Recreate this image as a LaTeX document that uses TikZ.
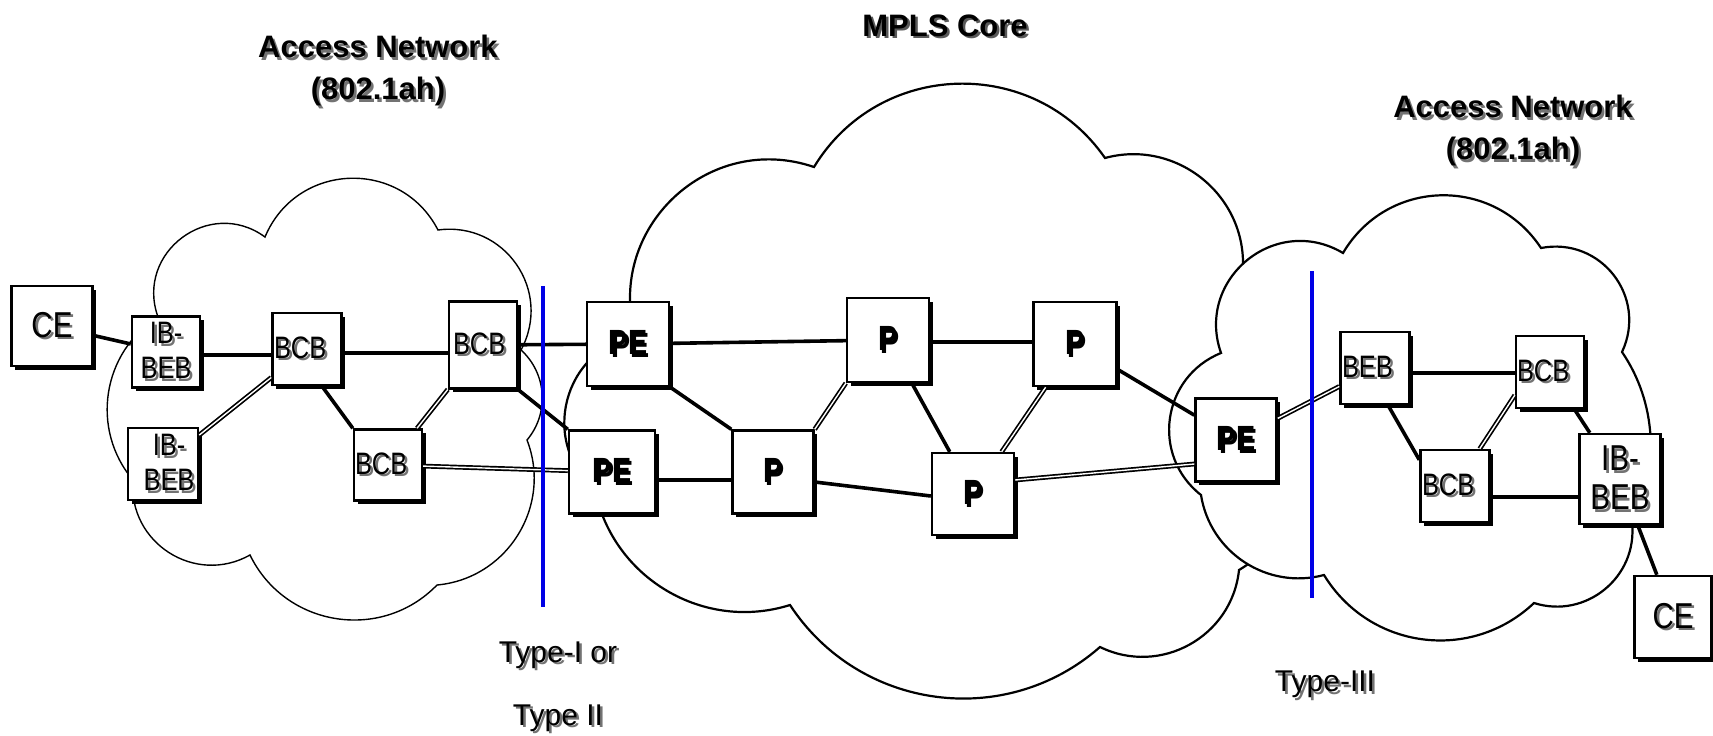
\documentclass[tikz,border=0pt]{standalone}
\usepackage{fontspec}
\setmainfont{Liberation Sans}
\newfontfamily\narrowf[FakeStretch=0.82]{Liberation Sans}
\usetikzlibrary{shadows,calc}
\newcommand\shd[2][black!55]{\makebox[0pt][l]{\hspace*{2.5pt}\raisebox{-2.5pt}{\textcolor{#1}{#2}}}#2}
\begin{document}
\begin{tikzpicture}[x=1pt,y=-1pt,
  box/.style={draw=black, line width=2.4pt, fill=white, inner sep=0pt,
    drop shadow={shadow xshift=3.5pt, shadow yshift=-3.5pt, fill=black, opacity=1}},
  lab/.style={font=\narrowf\fontsize{31}{35}\selectfont, align=center},
  biglab/.style={font=\narrowf\fontsize{36}{39}\selectfont, align=center},
  bld/.style={font=\narrowf\bfseries\fontsize{35}{38}\selectfont},
  lft/.style={text width=#1, align=left},
  title/.style={font=\bfseries\fontsize{31}{42}\selectfont, align=center, inner sep=0pt},
  typelab/.style={font=\fontsize{30}{63}\selectfont, align=center, inner sep=0pt},
  sl/.style={line width=3.6pt},
  dl/.style={double=white, double distance=1.4pt, line width=1.7pt},
  blueline/.style={draw=blue!90!black, line width=3.2pt},
  cloudthin/.style={draw=black, line width=1.4pt, fill=white},
  cloudthick/.style={draw=black, line width=2.2pt, fill=white}]
\useasboundingbox (0,0) rectangle (1713,736);

% MPLS core cloud
\draw[cloudthick] (814,167) to[bend left=57,looseness=1.10] (1105,158)
  to[bend left=53,looseness=1.06] (1243,265)
  to[bend left=58,looseness=1.12] (1239,570)
  to[bend left=55,looseness=1.08] (1100,647)
  to[bend left=49,looseness=1.03] (790,605)
  to[bend left=48,looseness=1.02] (595,490)
  to[bend left=63,looseness=1.18] (635,335)
  to[bend left=62,looseness=1.16] cycle;
% left access cloud
\draw[cloudthin] (265,237) to[bend left=65,looseness=1.20] (438,230)
  to[bend left=63,looseness=1.18] (521,350)
  to[bend left=44,looseness=0.99] (527,440)
  to[bend left=53,looseness=1.06] (437,585)
  to[bend left=55,looseness=1.08] (250,555)
  to[bend left=62,looseness=1.16] (133,480)
  to[bend left=49,looseness=1.03] (158,317)
  to[bend left=73,looseness=1.31] cycle;
% right access cloud
\draw[cloudthick] (1343,253) to[bend left=58,looseness=1.12] (1541,248)
  to[bend left=63,looseness=1.18] (1622,352)
  to[bend left=31,looseness=0.91] (1632,523)
  to[bend left=57,looseness=1.10] (1534,603)
  to[bend left=51,looseness=1.05] (1324,575)
  to[bend left=48,looseness=1.02] (1201,495)
  to[bend left=60,looseness=1.14] (1221,353)
  to[bend left=70,looseness=1.27] cycle;

% nodes
\node[box, biglab, minimum width=81pt, minimum height=80pt] (ce1) at (52,326) {\shd{CE}};
\node[box, lab, minimum width=68pt, minimum height=71pt] (ib1) at (166,352) {\shd{IB-}\\\shd{BEB}};
\node[box, lab, lft=66pt, minimum width=69pt, minimum height=72pt] (bc1) at (307,349) {\shd{BCB}};
\node[box, lab, lft=60pt, minimum width=68pt, minimum height=87pt] (bc2) at (483,345) {\shd{BCB}};
\node[box, lab, minimum width=70pt, minimum height=72pt] (ib2) at (163,464) {\hspace*{12pt}\shd{IB-}\\\hspace*{12pt}\shd{BEB}};
\node[box, lab, lft=66pt, minimum width=68pt, minimum height=71pt] (bc3) at (388,465) {\shd{BCB}};
\node[box, bld, minimum width=82pt, minimum height=84pt] (pe1) at (628,344) {\shd[black]{PE}};
\node[box, bld, minimum width=86pt, minimum height=83pt] (pe2) at (612,472) {\shd[black]{PE}};
\node[box, bld, minimum width=82pt, minimum height=84pt] (p1) at (888,340) {\shd[black]{P}};
\node[box, bld, minimum width=83pt, minimum height=84pt] (p2) at (1075,344) {\shd[black]{P}};
\node[box, bld, minimum width=81pt, minimum height=83pt] (p3) at (773,472) {\shd[black]{P}};
\node[box, bld, minimum width=82pt, minimum height=82pt] (p4) at (973,494) {\shd[black]{P}};
\node[box, bld, minimum width=81pt, minimum height=83pt] (pe3) at (1236,440) {\shd[black]{PE}};
\node[box, lab, lft=66pt, minimum width=69pt, minimum height=72pt] (beb) at (1375,368) {\shd{BEB}};
\node[box, lab, lft=66pt, minimum width=68pt, minimum height=72pt] (bc4) at (1550,372) {\shd{BCB}};
\node[box, lab, lft=66pt, minimum width=69pt, minimum height=72pt] (bc5) at (1455,486) {\shd{BCB}};
\node[box, biglab, minimum width=81pt, minimum height=90pt] (ib3) at (1620,479) {\shd{IB-}\\\shd{BEB}};
\node[box, biglab, minimum width=77pt, minimum height=82pt] (ce2) at (1673,617) {\shd{CE}};

% connectors
\draw[sl] (ce1) -- (ib1);
\draw[sl] ([yshift=-3pt]ib1.east) -- ([yshift=-3pt]ib1.east -| bc1.west);
\draw[sl] ([yshift=-4pt]bc1.east) -- ([yshift=-4pt]bc1.east -| bc2.west);
\draw[dl] (ib2) -- (bc1);
\draw[sl] ([xshift=15pt]bc1.south) -- (bc3.north west);
\draw[dl] (bc3) -- (bc2);
\draw[sl] (bc2) -- (pe1);
\draw[sl] (bc2.south east) -- (pe2.north west);
\draw[dl] (bc3) -- (pe2);
\draw[sl] (pe1) -- (p1);
\draw[sl] (pe1.south east) -- (p3.north west);
\draw[sl] ([yshift=-8pt]pe2.east) -- ([yshift=-8pt]pe2.east -| p3.west);
\draw[dl] (p3.north east) -- (p1.south west);
\draw[sl] ([yshift=-10pt]p3.east) -- ([yshift=-2pt]p4.west);
\draw[sl] (p1) -- (p4);
\draw[sl] ([yshift=-2pt]p1.east) -- ([yshift=-2pt]p1.east -| p2.west);
\draw[dl] (p2) -- (p4);
\draw[sl] (p2) -- (pe3);
\draw[dl] ([yshift=14pt]p4.east) -- ([yshift=-24pt]pe3.west);
\draw[dl] (pe3) -- (beb);
\draw[sl] ([yshift=-5pt]beb.east) -- ([yshift=-5pt]beb.east -| bc4.west);
\draw[sl] ([xshift=13pt]beb.south) -- ([yshift=-11pt]bc5.north west);
\draw[dl] ([xshift=-11pt]bc5.north east) -- ([yshift=14pt]bc4.south west);
\draw[sl] ([yshift=-11pt]bc5.east) -- ([yshift=-11pt]bc5.east -| ib3.west);
\draw[sl] (bc4) -- (ib3);
\draw[sl] (ib3) -- (ce2);

% type separators
\coordinate (bt1) at (543,286);
\coordinate (bb1) at (543,607);
\coordinate (bt2) at (1312,271);
\coordinate (bb2) at (1312,598);
\draw[blueline] (bt1) -- (bb1);
\draw[blueline] (bt2) -- (bb2);

% titles
\node[title] (tl) at (378,72) {\shd{Access Network}\\\shd{(802.1ah)}};
\node[title] (tm) at (945,27) {\shd[black!65]{MPLS Core}};
\node[title] (tr) at (1513,132) {\shd{Access Network}\\\shd{(802.1ah)}};
\node[typelab] (ty1) at (558,688) {\shd{Type-I or}\\\shd{Type II}};
\node[typelab] (ty3) at (1325,686) {\shd{Type-III}};
\end{tikzpicture}
\end{document}
